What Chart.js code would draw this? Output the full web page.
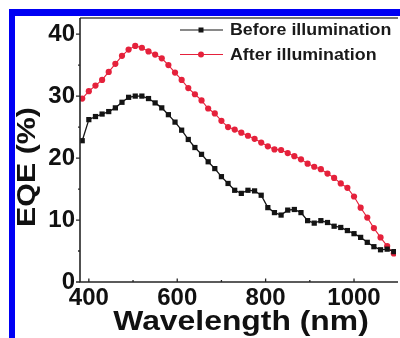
<!DOCTYPE html>
<html><head><meta charset="utf-8">
<script src="https://cdn.jsdelivr.net/npm/chart.js@4/dist/chart.umd.min.js"></script>
<style>
html,body{margin:0;padding:0;background:#fff;overflow:hidden}
#wrap{position:relative;width:400px;height:338px;overflow:hidden}
#frame{position:absolute;left:9px;top:9px;width:391px;height:329px;border-left:6px solid #0000f4;border-top:7px solid #0000f4;box-sizing:border-box;pointer-events:none}
canvas{position:absolute;left:0;top:0}
</style></head><body>
<div id="wrap"><canvas id="c" width="400" height="338"></canvas><div id="frame"></div></div>
<script>
// ---- data ----
const wavelengths = [385,400,415,430,445,460,475,490,505,520,535,550,565,580,595,610,625,640,655,670,685,700,715,730,745,760,775,790,805,820,835,850,865,880,895,910,925,940,955,970,985,1000,1015,1030,1045,1060,1075,1090];
const beforeIllum = [22.8,26.2,26.7,27.1,27.5,28.1,29.0,29.8,30.0,30.0,29.6,28.9,28.1,27.0,25.8,24.5,23.0,21.7,20.6,19.4,18.3,17.0,15.9,14.8,14.3,14.8,14.7,14.0,12.0,11.2,10.8,11.6,11.7,11.2,9.9,9.5,9.9,9.6,9.0,8.8,8.3,7.8,7.2,6.4,5.7,5.2,5.3,4.9];
const afterIllum = [29.6,30.8,31.7,32.6,33.9,35.2,36.5,37.5,38.1,37.8,37.2,36.7,36.1,35.0,33.8,32.6,31.3,30.3,29.3,28.0,27.2,26.0,25.0,24.6,24.1,23.6,23.1,22.5,21.9,21.4,21.3,20.8,20.3,19.8,19.1,18.6,18.2,17.5,16.8,15.9,15.2,13.8,12.0,10.4,8.7,7.2,5.8,4.6];
const seriesLabels = ['Before illumination','After illumination'];
const xTickLabels = [400,600,800,1000];
const xMinorTicks = [500,700,900];
const yTickLabels = [0,10,20,30,40];
const yMinorTicks = [5,15,25,35];
const xTitle = 'Wavelength (nm)';
const yTitle = 'EQE (%)';

const BLACK = '#141414', RED = '#e5213b', AXIS = '#262626';

const decor = {
  id:'decor',
  afterDraw(chart){
    const ctx = chart.ctx, a = chart.chartArea;
    const xs = chart.scales.x, ys = chart.scales.y;
    ctx.save();
    // frame
    ctx.strokeStyle = '#4a4a4a'; ctx.lineWidth = 1.5;
    ctx.beginPath(); ctx.moveTo(a.left, a.top); ctx.lineTo(a.right + 2, a.top); ctx.stroke();
    ctx.strokeStyle = AXIS; ctx.lineWidth = 1.6;
    ctx.beginPath(); ctx.moveTo(a.left, a.top); ctx.lineTo(a.left, a.bottom); ctx.lineTo(a.right + 2, a.bottom); ctx.stroke();
    // ticks
    ctx.lineWidth = 1.3;
    ctx.beginPath();
    yTickLabels.forEach(v => { const p = ys.getPixelForValue(v); ctx.moveTo(a.left - 4, p); ctx.lineTo(a.left, p); });
    yMinorTicks.forEach(v => { const p = ys.getPixelForValue(v); ctx.moveTo(a.left - 2, p); ctx.lineTo(a.left, p); });
    xTickLabels.forEach(v => { const p = xs.getPixelForValue(v); ctx.moveTo(p, a.bottom); ctx.lineTo(p, a.bottom - 3.5); });
    xMinorTicks.forEach(v => { const p = xs.getPixelForValue(v); ctx.moveTo(p, a.bottom); ctx.lineTo(p, a.bottom - 2); });
    ctx.stroke();
    // axis titles
    ctx.fillStyle = '#111';
    ctx.font = 'bold 27px "Liberation Sans", Arial, sans-serif';
    ctx.textAlign = 'center'; ctx.textBaseline = 'alphabetic';
    ctx.save(); ctx.translate(241, 330); ctx.scale(1.18, 1); ctx.fillText(xTitle, 0, 0); ctx.restore();
    ctx.font = 'bold 26px "Liberation Sans", Arial, sans-serif';
    ctx.textBaseline = 'middle';
    ctx.save(); ctx.translate(27, 167); ctx.rotate(-Math.PI/2); ctx.scale(1.17, 1); ctx.fillText(yTitle, 0, 1); ctx.restore();
    // legend
    const rows = [30, 54.5];
    chart.data.datasets.forEach((ds, i) => {
      const y = rows[i];
      ctx.strokeStyle = ds.borderColor; ctx.lineWidth = 1.1;
      ctx.beginPath(); ctx.moveTo(180, y); ctx.lineTo(223, y); ctx.stroke();
      ctx.fillStyle = ds.backgroundColor;
      if (ds.pointStyle === 'rect') { ctx.fillRect(198.5, y - 2.5, 5, 5); }
      else { ctx.beginPath(); ctx.arc(201, y, 3, 0, Math.PI*2); ctx.fill(); }
      ctx.fillStyle = '#1a1a1a';
      ctx.font = 'bold 16.5px "Liberation Sans", Arial, sans-serif';
      ctx.textAlign = 'left'; ctx.textBaseline = 'alphabetic';
      ctx.save(); ctx.translate(230, y + 5.3); ctx.scale(1.08, 1); ctx.fillText(ds.label, 0, 0); ctx.restore();
    });
    ctx.restore();
  }
};

new Chart(document.getElementById('c').getContext('2d'), {
  type: 'line',
  data: {
    datasets: [
      { label: seriesLabels[0], data: wavelengths.map((w, i) => ({x: w, y: beforeIllum[i]})),
        borderColor: BLACK, backgroundColor: BLACK, borderWidth: 1.3, pointStyle: 'rect',
        pointRadius: 3.7, pointBorderWidth: 0, pointBackgroundColor: BLACK, tension: 0 },
      { label: seriesLabels[1], data: wavelengths.map((w, i) => ({x: w, y: afterIllum[i]})),
        borderColor: RED, backgroundColor: RED, borderWidth: 1.1, pointStyle: 'circle',
        pointRadius: 3.1, pointBorderWidth: 0, pointBackgroundColor: RED, tension: 0 }
    ]
  },
  options: {
    responsive: false, animation: false, devicePixelRatio: 1,
    layout: { padding: { left: 0, top: 18, right: 0, bottom: 0 } },
    plugins: { legend: { display: false }, tooltip: { enabled: false } },
    scales: {
      x: {
        type: 'linear', min: 380, max: 1095, bounds: 'data',
        grid: { display: false, drawTicks: false }, border: { display: false },
        afterBuildTicks: s => { s.ticks = xTickLabels.map(v => ({value: v})); },
        afterFit: s => { s.height = 56; s.paddingLeft = 0; s.paddingRight = 0; },
        ticks: { padding: 2, maxRotation: 0, autoSkip: false, color: '#111',
                 callback: v => String(v),
                 font: { family: '"Liberation Sans", Arial, sans-serif', weight: 'bold', size: 24 } }
      },
      y: {
        type: 'linear', min: 0, max: 42.6, bounds: 'data',
        grid: { display: false, drawTicks: false }, border: { display: false },
        afterBuildTicks: s => { s.ticks = yTickLabels.map(v => ({value: v})); },
        afterFit: s => { s.width = 80; s.paddingTop = 0; s.paddingBottom = 0; },
        ticks: { padding: 5, autoSkip: false, color: '#111',
                 callback: v => String(v),
                 font: { family: '"Liberation Sans", Arial, sans-serif', weight: 'bold', size: 24 } }
      }
    }
  },
  plugins: [decor]
});
</script>
</body></html>
